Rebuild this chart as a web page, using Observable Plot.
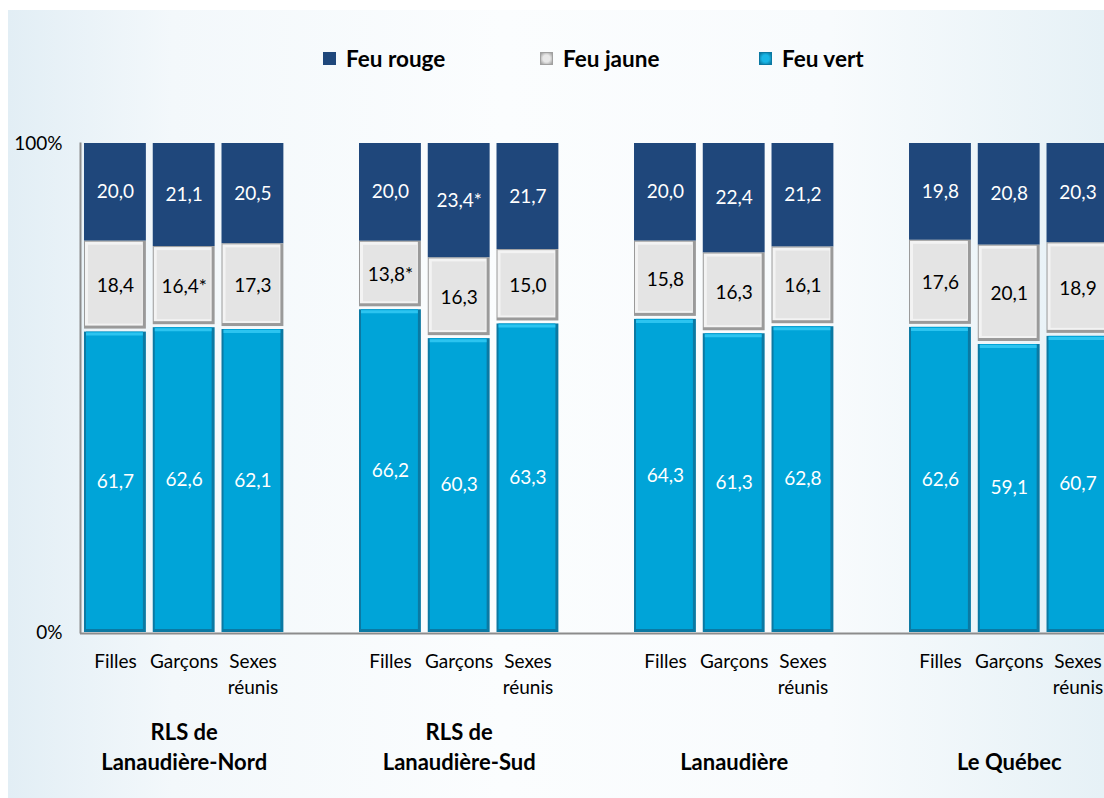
<!DOCTYPE html>
<html>
<head>
<meta charset="utf-8">
<script src="https://cdn.jsdelivr.net/npm/d3@7"></script>
<script src="https://cdn.jsdelivr.net/npm/@observablehq/plot@0.6"></script>
<style>
html, body { margin: 0; padding: 0; width: 1104px; height: 798px; overflow: hidden; background: #ffffff; }
#page { position: absolute; left: 8px; top: 10px; width: 1096px; height: 788px;
  background: linear-gradient(to right, #e2eef5 0%, #f3f8fb 15%, #fbfdfe 45%, #f8fbfd 75%, #e6f1f6 100%); }
#legend { position: absolute; left: 0; top: 0; width: 1104px; height: 100px;
  font-family: Lato, "Noto Sans", sans-serif; font-weight: bold; font-size: 22.5px; color: #000; }
.item { position: absolute; top: 45px; display: flex; align-items: center; gap: 10px; }
.sw { width: 13px; height: 13px; box-sizing: border-box; }
#chart { position: absolute; left: 0; top: 100px; }
</style>
</head>
<body>
<div id="page"></div>
<div id="legend"></div>
<div id="chart"></div>
<script>
// ---- data ----
const groups = ["RLS de\nLanaudière-Nord", "RLS de\nLanaudière-Sud", "Lanaudière", "Le Québec"];
const sexes = ["Filles", "Garçons", "Sexes\nréunis"];
const categories = ["Feu rouge", "Feu jaune", "Feu vert"];
const stackOrder = ["Feu vert", "Feu jaune", "Feu rouge"];

// order: group by group, Filles / Garçons / Sexes réunis
const feuRouge = [20.0, 21.1, 20.5, 20.0, 23.4, 21.7, 20.0, 22.4, 21.2, 19.8, 20.8, 20.3];
const feuJaune = [18.4, 16.4, 17.3, 13.8, 16.3, 15.0, 15.8, 16.3, 16.1, 17.6, 20.1, 18.9];
const feuVert  = [61.7, 62.6, 62.1, 66.2, 60.3, 63.3, 64.3, 61.3, 62.8, 62.6, 59.1, 60.7];
const noteRouge = ["", "", "", "", "*", "", "", "", "", "", "", ""];
const noteJaune = ["", "*", "", "*", "", "", "", "", "", "", "", ""];
const noteVert  = ["", "", "", "", "", "", "", "", "", "", "", ""];

// ---- build tables ----
const fmt = v => v.toFixed(1).replace(".", ",");
const rows = [];
const sexRows = [];
const groupRows = [];
const xDomain = [];
groups.forEach((g, gi) => {
  sexes.forEach((s, si) => {
    const i = gi * 3 + si;
    const key = gi + "|" + si;
    xDomain.push(key);
    sexRows.push({ key, sex: s });
    if (si === 1) groupRows.push({ key, group: g });
    rows.push({ key, cat: "Feu rouge", value: feuRouge[i], label: fmt(feuRouge[i]) + noteRouge[i] });
    rows.push({ key, cat: "Feu jaune", value: feuJaune[i], label: fmt(feuJaune[i]) + noteJaune[i] });
    rows.push({ key, cat: "Feu vert", value: feuVert[i], label: fmt(feuVert[i]) + noteVert[i] });
  });
  if (gi < groups.length - 1) xDomain.push("gap" + gi);
});

const stackOpts = extra => Plot.stackY({ x: "key", y: "value", z: "cat", order: stackOrder, offset: "normalize", ...extra });
const seg = (cat, fill, insets) =>
  Plot.barY(rows, stackOpts({ fill, fillOpacity: d => (d.cat === cat ? 1 : 0), ...insets }));

const FONT = "Lato, 'Noto Sans', sans-serif";

const chart = Plot.plot({
  width: 1104,
  height: 698,
  marginTop: 43,
  marginBottom: 166,
  marginLeft: 80,
  marginRight: 0,
  style: { background: "transparent", overflow: "hidden", fontFamily: FONT, color: "#000" },
  x: { type: "band", domain: xDomain, range: [84, 1108.4], paddingInner: 0.1, paddingOuter: 0, align: 0, round: false, axis: null },
  y: { domain: [0, 1], axis: null },
  marks: [
    // red segments
    seg("Feu rouge", "#1f477b", {}),
    // yellow (grey) bevelled segments
    seg("Feu jaune", "#9a9a9a", { insetBottom: 2 }),
    seg("Feu jaune", "#f3f3f3", { insetTop: 1, insetLeft: 1, insetRight: 3, insetBottom: 5 }),
    seg("Feu jaune", "#e4e4e4", { insetTop: 4, insetLeft: 4, insetRight: 4, insetBottom: 7 }),
    // green (blue) bevelled segments
    seg("Feu vert", "#0b79a3", { insetTop: 1 }),
    seg("Feu vert", "#00a4d8", { insetTop: 1, insetLeft: 2, insetRight: 3, insetBottom: 3 }),
    Plot.tickY(rows, Plot.stackY2({ x: "key", y: "value", z: "cat", order: stackOrder, offset: "normalize",
      stroke: "#2cc4f0", strokeWidth: 3, dy: 3, insetLeft: 2, insetRight: 3,
      strokeOpacity: d => (d.cat === "Feu vert" ? 1 : 0) })),
    // value labels
    Plot.text(rows, stackOpts({ text: "label", fill: d => (d.cat === "Feu jaune" ? "#000000" : "#ffffff"),
      fontSize: 19, fontFamily: FONT })),
    // axes lines
    Plot.frame({ anchor: "left", stroke: "#8c8c8c", strokeWidth: 2 }),
    Plot.ruleY([0], { stroke: "#8c8c8c", strokeWidth: 2, dy: 1 }),
    Plot.axisY([0, 1], { anchor: "left", label: null, tickSize: 0, tickPadding: 18, tickFormat: d => d * 100 + "%",
      fontSize: 19, fontFamily: FONT, fill: "#000" }),
    // category labels
    Plot.text(sexRows, { x: "key", frameAnchor: "bottom", dy: 17, lineAnchor: "top", text: "sex",
      fontSize: 19, fontFamily: FONT, fill: "#000", lineHeight: 1.38 }),
    Plot.text(groupRows, { x: "key", frameAnchor: "bottom", dy: 137, lineAnchor: "bottom", text: "group",
      fontSize: 22, fontWeight: "bold", fontFamily: FONT, fill: "#000", lineHeight: 1.32 })
  ]
});
document.getElementById("chart").appendChild(chart);

// ---- legend ----
const legendPos = { "Feu rouge": 323, "Feu jaune": 540, "Feu vert": 759 };
const swatchStyle = {
  "Feu rouge": "background:#1f477b;",
  "Feu jaune": "background:radial-gradient(#e8e8e8 45%, #9a9a9a 100%);border:1px solid #a0a0a0;",
  "Feu vert": "background:radial-gradient(#19b6e6 45%, #0a6f96 100%);border:1px solid #0b79a3;"
};
const legend = document.getElementById("legend");
categories.forEach(c => {
  const it = document.createElement("div");
  it.className = "item";
  it.style.left = legendPos[c] + "px";
  it.innerHTML = `<div class="sw" style="${swatchStyle[c]}"></div><span>${c}</span>`;
  legend.appendChild(it);
});
</script>
</body>
</html>
